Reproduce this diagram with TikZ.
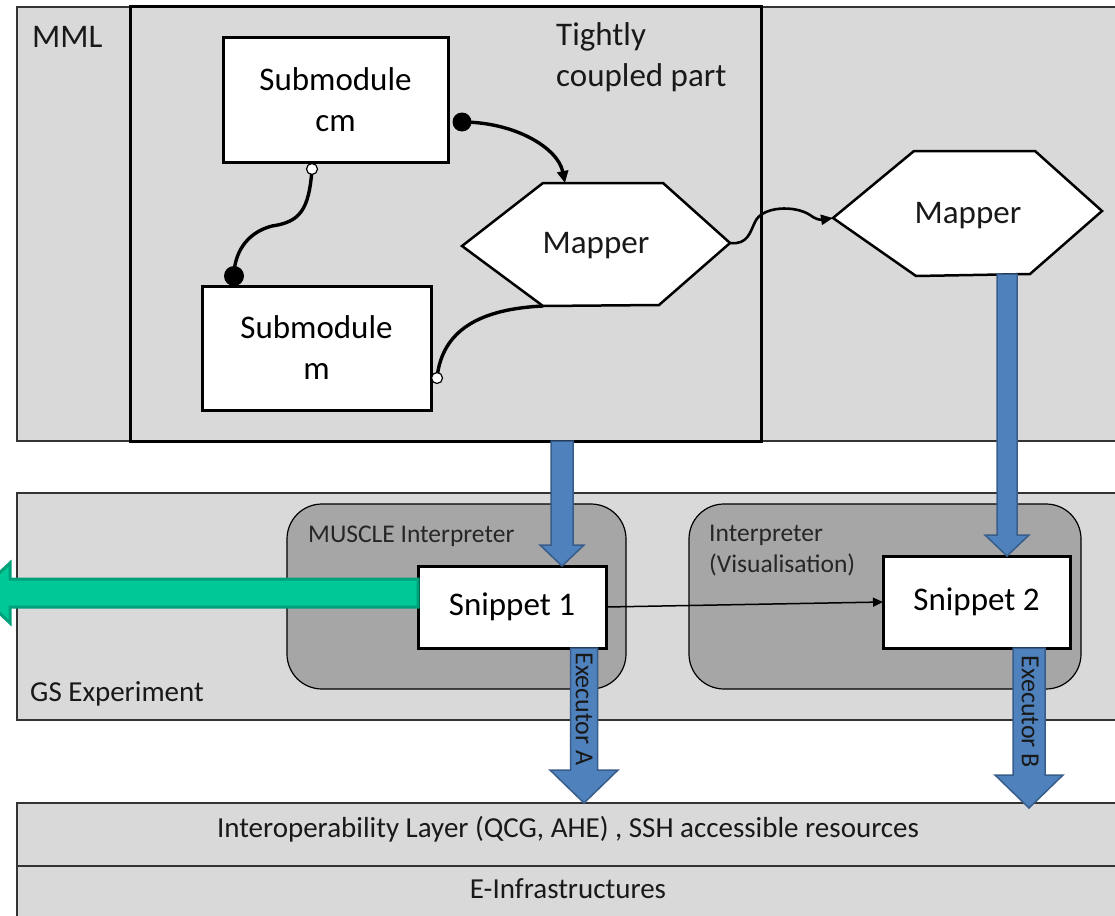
\documentclass[tikz,border=0pt]{standalone}
\usepackage{fontspec}
\setmainfont{Carlito}
\usetikzlibrary{arrows.meta,calc}
\definecolor{bandgray}{HTML}{D9D9D9}
\definecolor{boxgray}{HTML}{A6A6A6}
\definecolor{bluefill}{HTML}{4F81BD}
\definecolor{blueedge}{HTML}{385D8A}
\definecolor{greenfill}{HTML}{00C896}
\definecolor{greenedge}{HTML}{00A07A}
\newcommand{\fntBig}{\fontsize{33}{41}\selectfont}
\newcommand{\fntMid}{\fontsize{29}{34}\selectfont}
\newcommand{\fntSml}{\fontsize{25.5}{31}\selectfont}
\newcommand{\fntExe}{\fontsize{26}{30}\selectfont}
% #1 style, #2 start, #3 tip, #4 shaft half width, #5 head half width, #6 head length
\newcommand{\blockdown}[6]{\path[#1] let \p1=(#2), \p2=(#3) in
  (\x2-#4,\y1) -- (\x2-#4,\y2+#6) -- (\x2-#5,\y2+#6) -- (\x2,\y2) --
  (\x2+#5,\y2+#6) -- (\x2+#4,\y2+#6) -- (\x2+#4,\y1) -- cycle;}
\tikzset{
  bandbox/.style={draw=black!80, line width=1.2pt, fill=bandgray, inner sep=0pt, outer sep=0pt},
  tightbox/.style={draw=black, line width=3pt, inner sep=0pt, outer sep=0pt},
  modbox/.style={draw=black, line width=3pt, fill=white, align=center, inner sep=0pt, outer sep=0pt, font=\fntBig},
  interp/.style={draw=black, line width=1.2pt, fill=boxgray, rounded corners=35pt, inner sep=0pt, outer sep=0pt},
  hexa/.style={draw=black, line width=2.5pt, fill=white, line join=miter},
  conn/.style={draw=black, line width=3.4pt},
  opendot/.style={draw=black, line width=1.2pt, fill=white},
  bluearrow/.style={fill=bluefill, draw=blueedge, line width=1.5pt, line join=miter},
  greenarrow/.style={fill=greenfill, draw=greenedge, line width=3pt, line join=miter},
  lbl/.style={inner sep=0pt, text=black!90},
}
\begin{document}
\begin{tikzpicture}[x=1pt,y=-1pt]
\useasboundingbox (0,0) rectangle (1115,915);
\clip (0,0) rectangle (1115,915);
\fill[white] (0,0) rectangle (1115,915);

% bands
\node[bandbox, minimum width=1113pt, minimum height=434pt] (mml) at (573.5,224) {};
\node[bandbox, minimum width=1113pt, minimum height=227pt] (gs) at (573.5,606.5) {};
\node[bandbox, minimum width=1113pt, minimum height=63pt] (interop) at (573.5,834.5) {};
\node[bandbox, minimum width=1113pt, minimum height=64pt] (einfra) at (573.5,898) {};

\node[lbl, font=\fntBig, anchor=west] (mmllbl) at (32,37) {MML};
\node[lbl, font=\fntMid, anchor=west] (gslbl) at (30,694) {GS Experiment};
\node[lbl, font=\fntMid] (interoplbl) at (568,829) {Interoperability Layer (QCG, AHE) , SSH accessible resources};
\node[lbl, font=\fntMid] (einfralbl) at (568,889) {E-Infrastructures};

% tightly coupled part
\node[tightbox, minimum width=631pt, minimum height=434pt] (tight) at (445.5,224) {};
\node[lbl, font=\fntBig, anchor=north west, align=left] (tightlbl) at (556,22) {Tightly\\coupled part};

\node[modbox, minimum width=225pt, minimum height=124pt] (cm) at (335.5,100) {Submodule\\cm};
\node[modbox, minimum width=229pt, minimum height=124pt] (m) at (316.5,348) {Submodule\\m};

% mapper A
\coordinate (mAl) at (462,246);
\coordinate (mAtl) at (543,183);
\coordinate (mAtr) at (663,183);
\coordinate (mAr) at (730,243);
\coordinate (mAbr) at (659,305);
\coordinate (mAbl) at (543,306);
\draw[hexa] (mAl) -- (mAtl) -- (mAtr) -- (mAr) -- (mAbr) -- (mAbl) -- cycle;
\node[lbl, font=\fntBig] (mapA) at (596,246) {Mapper};
\coordinate (mAin) at (565,183);

% mapper B
\coordinate (mBl) at (833,218);
\coordinate (mBtl) at (914,151);
\coordinate (mBtr) at (1035,151);
\coordinate (mBr) at (1102,211);
\coordinate (mBbr) at (1030,274);
\coordinate (mBbl) at (916,276);
\draw[hexa] (mBl) -- (mBtl) -- (mBtr) -- (mBr) -- (mBbr) -- (mBbl) -- cycle;
\node[lbl, font=\fntBig] (mapB) at (968,216) {Mapper};

% connectors in tightly coupled part
\coordinate (dot1) at (462,122);
\coordinate (o1) at (312,169);
\coordinate (dot2) at (234,276);
\coordinate (o2) at (437,378);
\draw[conn, -{Triangle[length=12pt,width=11pt]}] (dot1) .. controls (515,122) and (558,148) .. (mAin);
\draw[conn] (o1) .. controls (309,210) and (300,222) .. (272,226) .. controls (245,233) and (234,255) .. (dot2);
\draw[conn] (mAbl) .. controls (480,309) and (442,330) .. (o2);
\draw[draw=black, line width=2.6pt, -{Triangle[length=12pt,width=10pt]}] (mAr) .. controls (748,245) and (750,232) .. (755,222)
  .. controls (762,206) and (795,205) .. (810,215) .. controls (815,219) and (820,220) .. (mBl);
\fill[black] (dot1) circle (9.5);
\fill[black] (dot2) circle (10);
\draw[opendot] (o1) circle (5.5);
\draw[opendot] (o2) circle (5.5);

% interpreters
\node[interp, minimum width=339pt, minimum height=185pt] (muscle) at (456.5,596.5) {};
\node[interp, minimum width=392pt, minimum height=185pt] (vis) at (885,596.5) {};
\node[lbl, font=\fntSml, anchor=west, text=black!85] (musclelbl) at (308,536) {MUSCLE Interpreter};
\node[lbl, font=\fntSml, anchor=north west, align=left, text=black!85] (vislbl) at (709,525) {Interpreter\\(Visualisation)};

\node[modbox, minimum width=188pt, minimum height=82pt] (snip1) at (512,607) {Snippet 1};
\node[modbox, minimum width=187pt, minimum height=92pt] (snip2) at (976.5,602) {Snippet 2};

\draw[black, line width=1.5pt, -{Triangle[length=10pt,width=9pt]}] (snip1.east) -- (snip2.west);

% block arrows
\coordinate (inA) at (562,566);
\coordinate (inB) at (1007,556);
\coordinate (exA) at (584,803);
\coordinate (exB) at (1029,808);
\blockdown{bluearrow}{tight.south -| inA}{inA}{11pt}{22pt}{21pt}
\blockdown{bluearrow}{mBbr -| inB}{inB}{10pt}{22pt}{21pt}
\blockdown{bluearrow}{snip1.south -| exA}{exA}{13.5pt}{34pt}{33pt}
\blockdown{bluearrow}{snip2.south -| exB}{exB}{16pt}{34pt}{33pt}
\node[lbl, font=\fntExe, rotate=-90] (exAlbl) at (584,709) {Executor A};
\node[lbl, font=\fntExe, rotate=-90] (exBlbl) at (1030,712) {Executor B};

% green arrow
\path[greenarrow] (snip1.west |- 0,579) -- (10,579) -- (10,563) -- (-22,593) -- (10,623) -- (10,607) -- (snip1.west |- 0,607) -- cycle;
\end{tikzpicture}
\end{document}
